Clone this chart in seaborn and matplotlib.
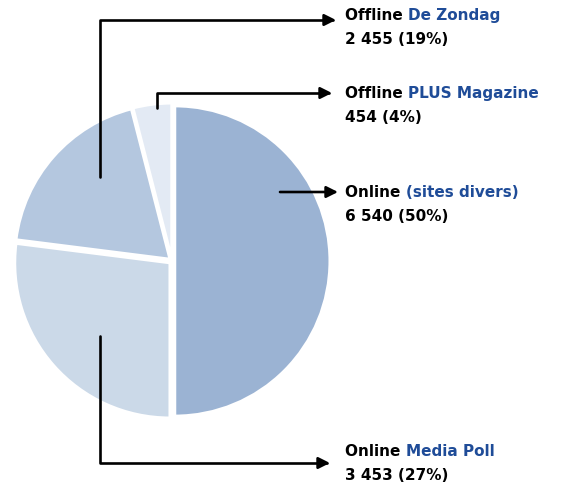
import matplotlib
matplotlib.use("Agg")
import matplotlib.pyplot as plt
import seaborn as sb

# data
prefixes = ["Online ", "Online ", "Offline ", "Offline "]
names = ["(sites divers)", "Media Poll", "De Zondag", "PLUS Magazine"]
values = [6540, 3453, 2455, 454]
value_labels = ["6 540", "3 453", "2 455", "454"]
percents = [50, 27, 19, 4]  # the pie is drawn from the printed shares
colors = ["#9bb3d3", "#cbd9e8", "#b4c7df", "#e3eaf4"]

# leader start (figure pixels), arrow tip (figure pixels), text baseline y
starts = [(280, 291), (100, 147), (100, 306), (157, 375)]
tips = [(338, 291), (330, 20), (336, 463), (332, 390)]
text_y = [286, 27, 463, 385]

sb.set_theme(style="white")
plt.rcParams["font.family"] = ["DejaVu Sans"]

W, H = 562, 483
fig = plt.figure(figsize=(W / 100, H / 100), dpi=100)
cx, cy, r = 172, 222, 159
ax = fig.add_axes([(cx - r) / W, (cy - r) / H, 2 * r / W, 2 * r / H])

ax.pie(percents, colors=colors, startangle=90, counterclock=False,
       radius=155 / 159, explode=[0.018] * 4,
       wedgeprops=dict(edgecolor="white", linewidth=2))
ax.set_xlim(-1, 1)
ax.set_ylim(-1, 1)
ax.set_aspect("equal")
ax.axis("off")

blue = "#1f4c98"
renderer = fig.canvas.get_renderer()
for i in range(len(values)):
    sx, sy = starts[i]
    tx, ty = tips[i]
    if sx == tx or sy == ty:
        conn = "arc3"
    else:
        conn = "angle,angleA=90,angleB=0,rad=0"
    fig.patches.append(matplotlib.patches.FancyArrowPatch(
        (sx, sy), (tx, ty), transform=None, arrowstyle="-|>",
        connectionstyle=conn, mutation_scale=17, lw=1.9, color="black",
        shrinkA=0, shrinkB=0))
    t1 = fig.text(345 / W, text_y[i] / H, prefixes[i], fontsize=11,
                  fontweight="bold", color="black", va="baseline", ha="left")
    x_end = t1.get_window_extent(renderer).x1
    fig.text(x_end / W, text_y[i] / H, names[i], fontsize=11,
             fontweight="bold", color=blue, va="baseline", ha="left")
    fig.text(345 / W, (text_y[i] - 24) / H,
             f"{value_labels[i]} ({percents[i]}%)", fontsize=11,
             fontweight="bold", color="black", va="baseline", ha="left")

fig.savefig("out.png", dpi=100)
